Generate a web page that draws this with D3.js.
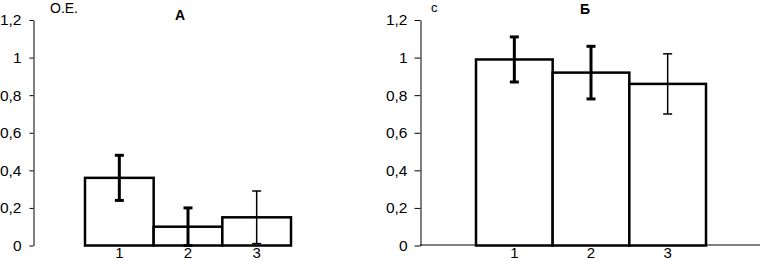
<!DOCTYPE html>
<html lang="ru">
<head>
  <meta charset="UTF-8">
  <title>О.Е. — A / Б</title>
  <script src="https://d3js.org/d3.v7.min.js"></script>
  <style>
    body { margin: 0; background: #fff; }
    svg { display: block; font-family: Arial, "Liberation Sans", sans-serif; }
  </style>
</head>
<body>
  <div id="chart"></div>
  <script>
    // données
    const categories = ["1", "2", "3"];
    const valuesA = [0.36, 0.10, 0.15];
    const errorsA = [0.12, 0.10, 0.14];
    const valuesB = [0.99, 0.92, 0.86];
    const errorsB = [0.12, 0.14, 0.16];
    const yTicks = [0, 0.2, 0.4, 0.6, 0.8, 1, 1.2];

    // épaisseur des barres d'erreur
    const errStroke = [3, 3, 1.5];

    const W = 764, H = 261;
    const svg = d3.select("#chart").append("svg")
      .attr("width", W)
      .attr("height", H);

    const y = d3.scaleLinear().domain([0, 1.2]).range([245.5, 20]);

    function drawPanel(opt) {
      const g = svg.append("g");

      const x = d3.scaleBand()
        .domain(categories)
        .range(opt.barRange)
        .padding(0);

      // axe vertical
      g.append("g")
        .attr("transform", "translate(" + (opt.axisX + 0.5) + ",0)")
        .call(d3.axisLeft(y)
          .tickValues(yTicks)
          .tickSize(opt.tickSize)
          .tickSizeOuter(0)
          .tickPadding(opt.tickPad)
          .tickFormat(d => String(d).replace(".", ",")))
        .call(s => s.selectAll("line, path").attr("stroke", "#000"))
        .call(s => s.selectAll(".tick text")
          .style("font-size", "15.5px")
          .style("font-family", "Arial, 'Liberation Sans', sans-serif")
          .attr("fill", "#000"));

      // axe horizontal (seulement pour le panneau Б)
      if (opt.xAxisEnd) {
        g.append("line")
          .attr("x1", opt.axisX).attr("x2", opt.xAxisEnd)
          .attr("y1", y(0) - 0.5).attr("y2", y(0) - 0.5)
          .attr("stroke", "#000");
      }

      // barres
      g.selectAll(".bar")
        .data(opt.values)
        .enter().append("rect")
        .attr("class", "bar")
        .attr("x", (d, i) => x(categories[i]))
        .attr("y", d => y(d))
        .attr("width", x.bandwidth())
        .attr("height", d => y(0) - y(d))
        .attr("fill", "#fff")
        .attr("stroke", "#000")
        .attr("stroke-width", 2.5);

      // barres d'erreur
      opt.values.forEach((v, i) => {
        const cx = x(categories[i]) + x.bandwidth() / 2;
        const e = opt.errors[i];
        const sw = errStroke[i];
        const eg = g.append("g").attr("stroke", "#000").attr("stroke-width", sw);
        eg.append("line").attr("x1", cx).attr("x2", cx).attr("y1", y(v + e)).attr("y2", y(v - e));
        eg.append("line").attr("x1", cx - 4.5).attr("x2", cx + 4.5).attr("y1", y(v + e)).attr("y2", y(v + e));
        eg.append("line").attr("x1", cx - 4.5).attr("x2", cx + 4.5).attr("y1", y(v - e)).attr("y2", y(v - e));
      });

      // étiquettes des catégories
      g.selectAll(".cat")
        .data(categories)
        .enter().append("text")
        .attr("x", d => x(d) + x.bandwidth() / 2)
        .attr("y", 258)
        .attr("text-anchor", "middle")
        .style("font-size", "15px")
        .text(d => d);

      g.append("text")
        .attr("x", opt.unitX)
        .attr("y", opt.unitY)
        .style("font-size", opt.unitSize)
        .text(opt.unit);

      g.append("text")
        .attr("x", opt.titleX)
        .attr("y", opt.titleY)
        .attr("text-anchor", "middle")
        .style("font-size", "14px")
        .style("font-weight", "bold")
        .text(opt.title);
    }

    drawPanel({
      values: valuesA, errors: errorsA,
      axisX: 33, barRange: [85, 291], tickSize: 4, tickPad: 8,
      unit: "О.Е.", unitX: 50, unitY: 13, unitSize: "14px",
      title: "А", titleX: 180, titleY: 20
    });

    drawPanel({
      values: valuesB, errors: errorsB,
      axisX: 420, barRange: [476, 706], xAxisEnd: 760, tickSize: 6, tickPad: 7,
      unit: "с", unitX: 431, unitY: 12, unitSize: "13px",
      title: "Б", titleX: 585, titleY: 14
    });
  </script>
</body>
</html>
